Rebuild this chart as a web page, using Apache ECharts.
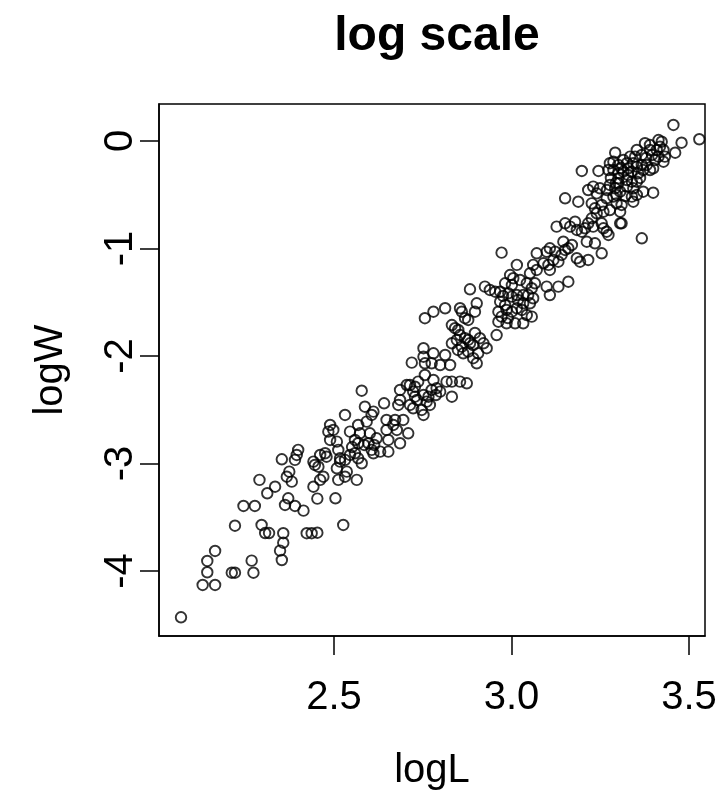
<!DOCTYPE html>
<html>
<head>
<meta charset="utf-8">
<script src="https://cdn.jsdelivr.net/npm/echarts@6/dist/echarts.min.js"></script>
<style>
html,body{margin:0;padding:0;background:#fff;}
#chart{width:720px;height:796px;}
</style>
</head>
<body>
<div id="chart"></div>
<script>
const chartTitle = 'log scale';
const xName = 'logL';
const yName = 'logW';
const xTicks = [2.5, 3.0, 3.5];
const yTicks = [-4, -3, -2, -1, 0];

const logL = [
  2.221,2.296,2.306,2.317,2.357,2.423,2.437,2.453,2.357,2.348,2.353,2.165,2.143,2.143,2.130,2.165,2.212,2.221,2.268,2.273,2.069,
  2.587,2.611,2.606,2.641,2.648,2.531,2.489,2.498,2.484,2.489,2.508,2.512,2.545,2.568,2.592,2.573,2.601,2.559,2.568,2.597,2.620,2.653,2.648,2.461,2.479,2.475,2.517,2.531,2.545,2.559,2.568,2.578,2.606,2.611,2.630,2.653,2.399,2.395,2.390,2.353,2.442,2.446,2.456,2.517,2.508,2.536,2.531,2.512,2.564,2.470,2.461,2.442,2.374,2.367,2.381,2.290,2.334,2.312,2.453,2.504,2.371,2.362,2.390,2.414,2.245,2.277,2.526,
  2.752,2.780,2.813,2.719,2.752,2.756,2.775,2.799,2.756,2.780,2.817,2.737,2.728,2.714,2.705,2.686,2.578,2.723,2.728,2.752,2.766,2.789,2.799,2.775,2.832,2.761,2.770,2.686,2.681,2.714,2.723,2.747,2.752,2.672,2.695,2.667,2.677,2.709,2.686,
  2.972,3.071,3.015,3.061,3.071,3.052,2.996,3.005,2.982,3.024,3.043,3.066,3.057,2.883,2.925,2.939,2.954,2.968,2.991,3.001,3.015,3.033,3.047,3.061,2.968,2.982,2.986,3.001,3.015,3.033,3.052,2.963,2.972,2.963,2.986,3.010,3.033,3.057,3.043,2.902,2.855,2.860,2.869,2.897,2.878,2.813,2.780,2.756,2.832,2.841,2.850,2.855,2.958,2.832,2.846,2.869,2.878,2.911,2.921,2.930,2.906,2.892,2.878,2.860,2.864,2.883,2.902,2.827,2.832,2.855,2.874,
  3.230,3.249,3.216,3.240,3.277,3.292,3.301,3.296,3.287,3.268,3.151,3.188,3.226,3.235,3.254,3.240,3.259,3.277,3.296,3.306,3.226,3.216,3.230,3.254,3.259,3.268,3.127,3.151,3.165,3.179,3.184,3.198,3.207,3.273,3.212,3.235,3.254,3.146,3.170,3.160,3.108,3.099,3.123,3.118,3.132,3.104,3.090,3.108,3.141,3.151,3.184,3.216,3.193,3.160,3.132,3.099,3.108,
  3.456,3.529,3.479,3.461,3.414,3.423,3.418,3.409,3.428,3.432,3.428,3.414,3.404,3.376,3.390,3.353,3.367,3.348,3.334,3.292,3.277,3.287,3.301,3.315,3.325,3.329,3.343,3.353,3.367,3.381,3.371,3.357,3.338,3.315,3.301,3.287,3.273,3.390,3.399,3.198,3.245,3.301,3.325,3.339,3.353,3.343,3.325,3.306,3.339,3.353,3.310,3.371,3.399,3.343,3.306,3.310,3.367,
  3.308,3.328,3.362,3.379,3.396,3.280,3.294,3.320,3.269,3.390,2.976,3.018,3.001,3.029,2.990,2.892,2.897,2.849,2.585,2.613,2.551,2.734,2.787
];

const logW = [
  -3.579,-3.572,-3.647,-3.647,-3.649,-3.649,-3.649,-3.644,-3.737,-3.811,-3.898,-3.814,-3.907,-4.012,-4.130,-4.130,-4.016,-4.016,-3.904,-4.016,-4.431,
  -2.472,-2.518,-2.549,-2.440,-2.595,-2.549,-2.642,-2.688,-2.704,-2.781,-2.797,-2.874,-2.704,-2.642,-2.611,-2.719,-2.719,-2.781,-2.812,-2.812,-2.766,-2.781,-2.688,-2.921,-2.937,-2.905,-2.952,-2.967,-2.921,-2.905,-2.952,-2.998,-2.874,-2.905,-2.890,-2.890,-2.874,-2.921,-2.967,-2.961,-2.983,-3.014,-3.030,-2.983,-3.045,-3.076,-3.123,-3.153,-3.153,-3.123,-3.153,-3.216,-3.076,-3.123,-3.169,-3.153,-3.216,-3.277,-3.327,-3.324,-3.324,-3.386,-3.395,-3.439,-3.395,-3.395,-3.572,
  -1.928,-1.975,-1.991,-2.062,-2.007,-2.068,-2.068,-2.084,-2.177,-2.223,-2.239,-2.239,-2.286,-2.270,-2.270,-2.316,-2.323,-2.332,-2.379,-2.363,-2.379,-2.300,-2.332,-2.316,-2.379,-2.425,-2.456,-2.409,-2.456,-2.456,-2.487,-2.502,-2.549,-2.595,-2.595,-2.642,-2.688,-2.719,-2.812,
  -1.039,-1.045,-1.153,-1.153,-1.200,-1.231,-1.247,-1.277,-1.324,-1.293,-1.324,-1.324,-1.370,-1.380,-1.355,-1.386,-1.402,-1.402,-1.417,-1.448,-1.433,-1.433,-1.433,-1.463,-1.495,-1.526,-1.572,-1.588,-1.556,-1.510,-1.510,-1.588,-1.634,-1.681,-1.696,-1.696,-1.696,-1.634,-1.619,-1.510,-1.556,-1.588,-1.649,-1.588,-1.665,-1.556,-1.588,-1.649,-1.712,-1.742,-1.758,-1.805,-1.805,-1.882,-1.851,-1.835,-1.851,-1.835,-1.882,-1.928,-1.975,-2.021,-1.960,-1.913,-1.975,-1.882,-2.068,-2.084,-2.239,-2.239,-2.254,
  -0.425,-0.440,-0.456,-0.487,-0.409,-0.440,-0.393,-0.502,-0.518,-0.533,-0.533,-0.565,-0.580,-0.626,-0.595,-0.673,-0.658,-0.642,-0.580,-0.766,-0.719,-0.766,-0.797,-0.766,-0.812,-0.844,-0.797,-0.766,-0.797,-0.751,-0.828,-0.844,-0.812,-0.874,-0.937,-0.952,-1.045,-0.937,-0.967,-0.998,-0.998,-1.030,-1.030,-1.107,-1.123,-1.153,-1.138,-1.200,-1.060,-1.014,-1.091,-1.107,-1.123,-1.309,-1.355,-1.355,-1.433,
  0.149,0.016,-0.016,-0.109,0.009,-0.007,-0.053,-0.084,-0.084,-0.146,-0.193,-0.146,-0.177,-0.021,-0.084,-0.084,-0.130,-0.146,-0.146,-0.109,-0.207,-0.193,-0.223,-0.177,-0.207,-0.254,-0.207,-0.239,-0.223,-0.223,-0.270,-0.300,-0.286,-0.286,-0.300,-0.270,-0.270,-0.270,-0.254,-0.279,-0.279,-0.347,-0.363,-0.379,-0.379,-0.440,-0.425,-0.472,-0.518,-0.502,-0.595,-0.472,-0.481,-0.565,-0.658,-0.766,-0.905,
  -0.251,-0.316,-0.344,-0.158,-0.130,-0.344,-0.391,-0.512,-0.456,-0.037,-1.442,-1.479,-1.340,-1.572,-1.647,-1.898,-1.786,-1.944,-2.828,-2.828,-2.847,-2.409,-2.363
];

const points = logL.map((v, i) => [v, logW[i]]);
const FONT = '"Liberation Sans", Arial, Helvetica, sans-serif';

const chart = echarts.init(document.getElementById('chart'), null, {renderer: 'canvas'});
chart.setOption({
  animation: false,
  backgroundColor: '#fff',
  title: {
    text: chartTitle,
    left: 432,
    top: 8,
    textAlign: 'center',
    textStyle: {fontFamily: FONT, fontSize: 48, fontWeight: 'bold', color: '#000'}
  },
  grid: {
    left: 159, right: 15, top: 104, bottom: 160,
    show: true, borderColor: '#000', borderWidth: 1.5, backgroundColor: 'transparent'
  },
  xAxis: {
    type: 'value',
    position: 'bottom',
    min: 2.007, max: 3.545,
    name: xName,
    nameLocation: 'middle',
    nameGap: 115,
    nameTextStyle: {fontFamily: FONT, fontSize: 40, color: '#000'},
    axisLine: {show: true, onZero: false, lineStyle: {color: '#000', width: 1.5}},
    splitLine: {show: false},
    axisTick: {show: true, inside: false, length: 19, customValues: xTicks, lineStyle: {color: '#000', width: 1.5}},
    axisLabel: {
      customValues: xTicks, margin: 42,
      fontFamily: FONT, fontSize: 40, color: '#000',
      formatter: v => Number(v).toFixed(1)
    }
  },
  yAxis: {
    type: 'value',
    position: 'left',
    min: -4.605, max: 0.344,
    name: yName,
    nameLocation: 'middle',
    nameGap: 88,
    nameTextStyle: {fontFamily: FONT, fontSize: 40, color: '#000'},
    axisLine: {show: true, onZero: false, lineStyle: {color: '#000', width: 1.5}},
    splitLine: {show: false},
    axisTick: {show: true, inside: false, length: 19, customValues: yTicks, lineStyle: {color: '#000', width: 1.5}},
    axisLabel: {
      customValues: yTicks, margin: 18, rotate: 90,
      fontFamily: FONT, fontSize: 40, color: '#000',
      formatter: v => String(Math.round(v))
    }
  },
  series: [{
    type: 'scatter',
    data: points,
    symbol: 'circle',
    symbolSize: 10.5,
    itemStyle: {color: 'rgba(0,0,0,0)', borderColor: '#000', borderWidth: 1.9},
    emphasis: {disabled: true},
    silent: true
  }]
});
</script>
</body>
</html>
